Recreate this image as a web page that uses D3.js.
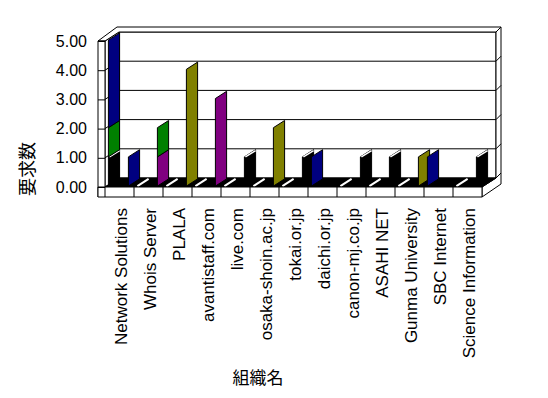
<!DOCTYPE html>
<html>
<head>
<meta charset="utf-8">
<script src="https://cdn.jsdelivr.net/npm/d3@7"></script>
<style>
  body { margin: 0; background: #fff; }
  text { font-family: "Liberation Sans", Arial, "Noto Sans CJK JP", sans-serif; fill: #000; }
</style>
</head>
<body>
<div id="chart"></div>
<script>
// organisations on the category axis
const categories = ["Network Solutions", "Whois Server", "PLALA", "avantistaff.com", "live.com",
  "osaka-shoin.ac.jp", "tokai.or.jp", "daichi.or.jp", "canon-mj.co.jp", "ASAHI NET",
  "Gunma University", "SBC Internet", "Science Information"];

// left plate of each category
const blackA  = [1, 0, 0, 0, 0, 0, 0, 0, 0, 0, 0, 0, 0];
const greenA  = [1, 0, 0, 0, 0, 0, 0, 0, 0, 0, 0, 0, 0];
const navyA   = [3, 0, 0, 0, 0, 0, 0, 1, 0, 0, 0, 1, 0];

// right plate of each category
const blackB  = [0, 0, 0, 0, 1, 0, 1, 0, 1, 1, 0, 0, 1];
const purpleB = [0, 1, 0, 3, 0, 0, 0, 0, 0, 0, 0, 0, 0];
const oliveB  = [0, 0, 4, 0, 0, 2, 0, 0, 0, 0, 1, 0, 0];
const greenB  = [0, 1, 0, 0, 0, 0, 0, 0, 0, 0, 0, 0, 0];
const navyB   = [1, 0, 0, 0, 0, 0, 0, 0, 0, 0, 0, 0, 0];

const yTicks = [0, 1, 2, 3, 4, 5];
const groups = ["A", "B"];
const keys = ["black", "purple", "olive", "green", "navy"];

const color = d3.scaleOrdinal()
  .domain(keys)
  .range(["#000000", "#800080", "#808000", "#008000", "#000080"]);

var width = 548;
var height = 398;

// front plane of the box, and the depth offset
var x0 = 105, x1 = 482;
var yFront0 = 187, yFront5 = 41;
var dx = 14, dy = -9;     // depth of the plot box
var t = 7;                // thickness of the left wall
var btx = 5, bty = -5;    // thickness of the back wall
var ft = 10;              // thickness of the floor

/* Format Data */
var rows = [];
categories.forEach(function (c, i) {
  rows.push({cat: c, group: "A", black: blackA[i], purple: 0, olive: 0, green: greenA[i], navy: navyA[i]});
  rows.push({cat: c, group: "B", black: blackB[i], purple: purpleB[i], olive: oliveB[i], green: greenB[i], navy: navyB[i]});
});
var series = d3.stack().keys(keys)(rows);

/* Scale */
var xScale = d3.scaleBand()
  .domain(categories)
  .range([x0, x1])
  .padding(0);

var gScale = d3.scaleBand()
  .domain(groups)
  .range([0, xScale.bandwidth()])
  .paddingInner(0.75)
  .paddingOuter(0.1);

var yScale = d3.scaleLinear()
  .domain([0, 5])
  .range([yFront0, yFront5]);

var svg = d3.select("#chart").append("svg")
  .attr("width", width)
  .attr("height", height);

svg.append("rect").attr("width", width).attr("height", height).attr("fill", "#fff");

var line = d3.line();
function poly(g, pts, fill) {
  return g.append("path")
    .attr("d", line(pts) + "Z")
    .attr("fill", fill)
    .attr("stroke", "#000")
    .attr("stroke-width", 1);
}

var yT = yScale(5), yB = yScale(0);
var box = svg.append("g").attr("class", "box");

/* back wall and left wall */
poly(box, [[x0 + dx, yT + dy], [x1 + dx, yT + dy], [x1 + dx, yB + dy], [x0 + dx, yB + dy]], "#fff");
poly(box, [[x0, yB], [x0, yT], [x0 + dx, yT + dy], [x0 + dx, yB + dy]], "#fff");

/* top strip and right strip of the wall slabs */
poly(box, [[x0 - t, yT], [x0 - t + dx + btx, yT + dy + bty], [x1 + dx + btx, yT + dy + bty],
  [x1 + dx, yT + dy], [x0 + dx, yT + dy], [x0, yT]], "#fff");
poly(box, [[x1 + dx, yT + dy], [x1 + dx + btx, yT + dy + bty], [x1 + dx + btx, yB + dy + ft / 2 + 1],
  [x1, yB + ft], [x1, yB], [x1 + dx, yB + dy]], "#fff");

/* gridlines */
yTicks.forEach(function (v) {
  var yy = yScale(v);
  if (v > 0 && v < 5) {
    box.append("line").attr("x1", x0 + dx).attr("x2", x1 + dx).attr("y1", yy + dy).attr("y2", yy + dy)
      .attr("stroke", "#000");
    box.append("line").attr("x1", x0).attr("x2", x0 + dx).attr("y1", yy).attr("y2", yy + dy)
      .attr("stroke", "#000");
  }
  if (v < 5) {
    box.append("line").attr("x1", x1 + dx).attr("x2", x1 + dx + btx).attr("y1", yy + dy).attr("y2", yy + dy + bty)
      .attr("stroke", "#000");
  }
});

/* floor */
poly(box, [[x0, yB], [x1, yB], [x1 + dx, yB + dy], [x0 + dx, yB + dy]], "#000");

/* plates */
var f0 = 0.1, f1 = 0.9;
function platePts(xf, v0, v1) {
  return [[xf + f0 * dx, yScale(v0) + f0 * dy], [xf + f1 * dx, yScale(v0) + f1 * dy],
    [xf + f1 * dx, yScale(v1) + f1 * dy], [xf + f0 * dx, yScale(v1) + f0 * dy]];
}

var plates = svg.append("g").attr("class", "plates");
rows.forEach(function (r, j) {
  var xf = xScale(r.cat) + gScale(r.group);
  var total = d3.sum(keys, k => r[k]);
  if (total === 0) {
    // flat plate on the floor
    if (r.group === "A") {
      plates.append("line")
        .attr("x1", xf + f0 * dx).attr("y1", yScale(0) + f0 * dy)
        .attr("x2", xf + f1 * dx).attr("y2", yScale(0) + f1 * dy)
        .attr("stroke", "#fff").attr("stroke-width", 2);
    }
    return;
  }
  series.forEach(function (s) {
    var d = s[j];
    if (d[1] <= d[0]) return;
    poly(plates, platePts(xf, d[0], d[1]), color(s.key));
    if (s.key === "black") {
      plates.append("line")
        .attr("x1", xf + f0 * dx + 1).attr("y1", yScale(d[1]) + f0 * dy)
        .attr("x2", xf + f1 * dx).attr("y2", yScale(d[1]) + f1 * dy + 1)
        .attr("stroke", "#fff").attr("stroke-width", 1.5);
    }
  });
});

/* front faces of the slabs */
var front = svg.append("g").attr("class", "front");
poly(front, [[x0 - t, yB + ft], [x0 - t, yT], [x0, yT], [x0, yB]], "#fff");
poly(front, [[x0 - t, yB], [x1, yB], [x1, yB + ft], [x0 - t, yB + ft]], "#fff");
xScale.domain().forEach(function (c) {
  front.append("line")
    .attr("x1", xScale(c)).attr("x2", xScale(c))
    .attr("y1", yB).attr("y2", yB + ft)
    .attr("stroke", "#000");
});

/* Add Axis into SVG */
var yAxis = d3.axisLeft(yScale)
  .tickValues(yTicks)
  .tickFormat(d3.format(".2f"))
  .tickSize(t)
  .tickPadding(11);

svg.append("g")
  .attr("class", "y axis")
  .attr("transform", `translate(${x0}, 0)`)
  .call(yAxis)
  .call(g => g.select(".domain").remove())
  .call(g => g.selectAll(".tick line").attr("stroke", "#000"))
  .call(g => g.selectAll("text").attr("font-size", 16).attr("font-family", "Liberation Sans, Arial, sans-serif"));

var xAxis = d3.axisBottom(xScale).tickSize(0);

svg.append("g")
  .attr("class", "x axis")
  .attr("transform", `translate(2, ${yB + ft})`)
  .call(xAxis)
  .call(g => g.select(".domain").remove())
  .call(g => g.selectAll("text")
    .attr("font-size", 17)
    .attr("font-family", "Liberation Sans, Arial, sans-serif")
    .attr("text-anchor", "end")
    .attr("transform", "rotate(-90)")
    .attr("x", -11)
    .attr("y", 0)
    .attr("dy", "0.35em"));

svg.append("text")
  .attr("x", 258)
  .attr("y", 384)
  .attr("text-anchor", "middle")
  .attr("font-size", 17)
  .attr("font-family", "Noto Sans CJK JP, sans-serif")
  .text("組織名");

svg.append("text")
  .attr("transform", "translate(34, 169) rotate(-90)")
  .attr("text-anchor", "middle")
  .attr("font-size", 18)
  .attr("font-family", "Noto Sans CJK JP, sans-serif")
  .text("要求数");
</script>
</body>
</html>
